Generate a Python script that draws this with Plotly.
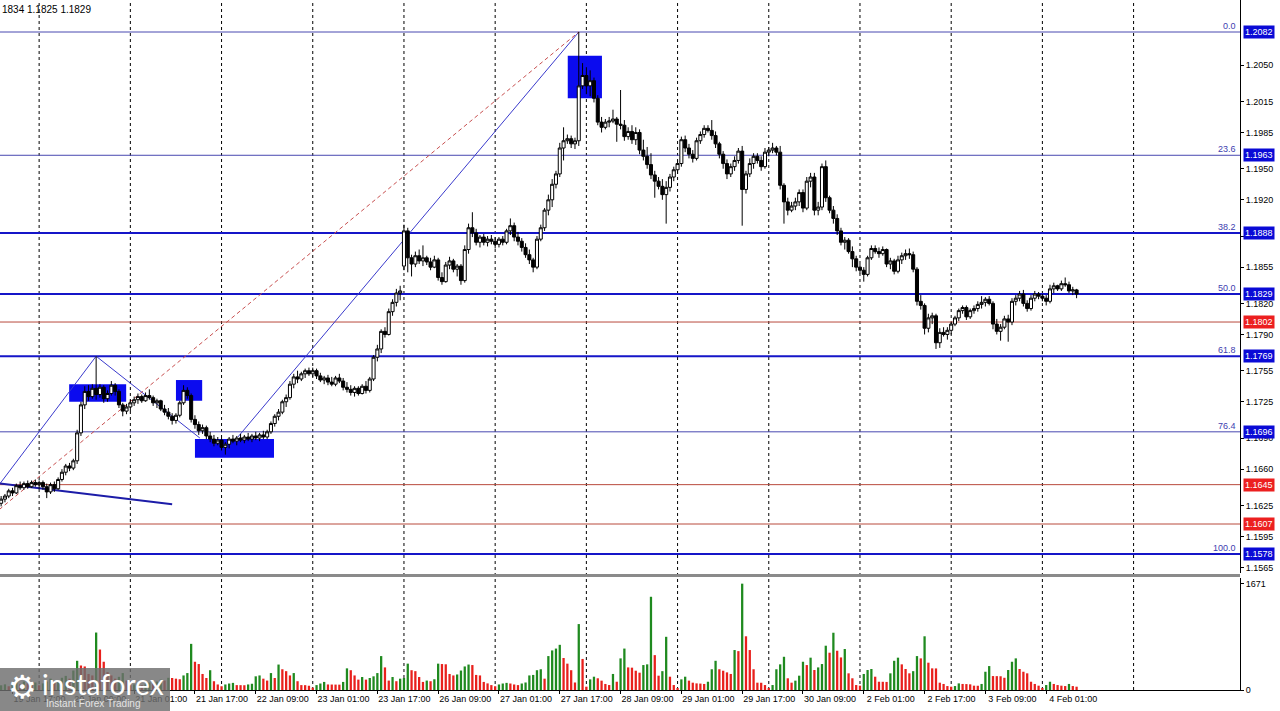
import plotly.graph_objects as go

# ---------------- data (EURUSD H1) ----------------
OPEN = [
    1.1627, 1.1631, 1.1634, 1.1639, 1.1637, 1.1644, 1.1642, 1.1646, 1.1643, 1.1647,
    1.1645, 1.1647, 1.1643, 1.1638, 1.1645, 1.1641, 1.1650, 1.1657, 1.1663, 1.1661,
    1.1668, 1.1695, 1.1722, 1.1735, 1.1730, 1.1738, 1.1732, 1.1739, 1.1728, 1.1733,
    1.1741, 1.1735, 1.1722, 1.1716, 1.1720, 1.1724, 1.1727, 1.1730, 1.1726, 1.1731,
    1.1729, 1.1724, 1.1726, 1.1718, 1.1715, 1.1711, 1.1707, 1.1712, 1.1724, 1.1736,
    1.1731, 1.1708, 1.1703, 1.1697, 1.1700, 1.1692, 1.1689, 1.1685, 1.1688, 1.1681,
    1.1684, 1.1689, 1.1687, 1.1690, 1.1688, 1.1691, 1.1689, 1.1692, 1.1690, 1.1693,
    1.1691, 1.1696, 1.1704, 1.1711, 1.1715, 1.1725, 1.1729, 1.1742, 1.1749, 1.1747,
    1.1752, 1.1755, 1.1752, 1.1755, 1.1750, 1.1746, 1.1748, 1.1744, 1.1742, 1.1748,
    1.1745, 1.1739, 1.1737, 1.1734, 1.1738, 1.1733, 1.1740, 1.1736, 1.1747, 1.1768,
    1.1776, 1.1793, 1.1790, 1.1812, 1.1821, 1.1830, 1.1856, 1.1890, 1.1864, 1.1858,
    1.1866, 1.1861, 1.1864, 1.1860, 1.1855, 1.1862, 1.1845, 1.1841, 1.1857, 1.1861,
    1.1853, 1.1856, 1.1842, 1.1872, 1.1893, 1.1888, 1.1879, 1.1884, 1.1879, 1.1882,
    1.1880, 1.1877, 1.1882, 1.1879, 1.1890, 1.1895, 1.1884, 1.1880, 1.1874, 1.1867,
    1.1862, 1.1855, 1.1882, 1.1893, 1.1910, 1.1920, 1.1935, 1.1945, 1.1970, 1.1977,
    1.1979, 1.1974, 1.1977, 1.2030, 1.2040, 1.2030, 1.2035, 1.2018, 1.1995, 1.1990,
    1.1995, 1.1996, 1.1998, 1.1993, 1.1992, 1.1981, 1.1986, 1.1978, 1.1985, 1.1968,
    1.1962, 1.1954, 1.1944, 1.1938, 1.1933, 1.1925, 1.1932, 1.1942, 1.1949, 1.1955,
    1.1978, 1.1970, 1.1964, 1.1960, 1.1977, 1.1983, 1.1989, 1.1987, 1.1982, 1.1974,
    1.1964, 1.1955, 1.1945, 1.1952, 1.1958, 1.1967, 1.1930, 1.1945, 1.1955, 1.1962,
    1.1958, 1.1952, 1.1966, 1.1968, 1.1970, 1.1966, 1.1934, 1.1918, 1.1910, 1.1914,
    1.1918, 1.1927, 1.1912, 1.1938, 1.1942, 1.1910, 1.1913, 1.1952, 1.1922, 1.1910,
    1.1902, 1.1890, 1.1879, 1.1881, 1.1870, 1.1863, 1.1855, 1.1852, 1.1848, 1.1864,
    1.1873, 1.1870, 1.1868, 1.1872, 1.1858, 1.1861, 1.1851, 1.1862, 1.1866, 1.1868,
    1.1867, 1.1853, 1.1822, 1.1818, 1.1796, 1.1806, 1.1808, 1.1782, 1.1792, 1.1790,
    1.1794, 1.1800, 1.1806, 1.1813, 1.1816, 1.1807, 1.1813, 1.1815, 1.1819, 1.1821,
    1.1824, 1.1820, 1.1800, 1.1793, 1.1797, 1.1805, 1.1802, 1.1822, 1.1825, 1.1829,
    1.1820, 1.1815, 1.1825, 1.1829, 1.1827, 1.1825, 1.1822, 1.1834, 1.1837, 1.1834,
    1.1839, 1.1838, 1.1832, 1.1833,
]
HIGH = [
    1.1634, 1.1636, 1.1641, 1.1642, 1.1646, 1.1648, 1.1648, 1.1649, 1.1649, 1.1650,
    1.1649, 1.1649, 1.1646, 1.1647, 1.1648, 1.1652, 1.1660, 1.1665, 1.1666, 1.1670,
    1.1698, 1.1725, 1.1740, 1.1741, 1.1742, 1.1769, 1.1742, 1.1741, 1.1736, 1.1745,
    1.1743, 1.1737, 1.1724, 1.1723, 1.1727, 1.1730, 1.1733, 1.1732, 1.1734, 1.1737,
    1.1731, 1.1728, 1.1727, 1.1722, 1.1719, 1.1714, 1.1714, 1.1726, 1.1741, 1.1739,
    1.1733, 1.1712, 1.1706, 1.1703, 1.1702, 1.1696, 1.1693, 1.1691, 1.1690, 1.1686,
    1.1691, 1.1693, 1.1692, 1.1694, 1.1693, 1.1695, 1.1694, 1.1696, 1.1695, 1.1697,
    1.1698, 1.1706, 1.1713, 1.1718, 1.1727, 1.1732, 1.1745, 1.1752, 1.1755, 1.1754,
    1.1757, 1.1758, 1.1758, 1.1757, 1.1753, 1.1750, 1.1751, 1.1749, 1.1750, 1.1752,
    1.1748, 1.1744, 1.1741, 1.1740, 1.1740, 1.1742, 1.1745, 1.1749, 1.1770, 1.1780,
    1.1795, 1.1797, 1.1815, 1.1824, 1.1834, 1.1837, 1.1896, 1.1893, 1.1867, 1.1870,
    1.1872, 1.1876, 1.1866, 1.1864, 1.1866, 1.1864, 1.1850, 1.1860, 1.1865, 1.1863,
    1.1858, 1.1858, 1.1876, 1.1897, 1.1908, 1.1892, 1.1886, 1.1887, 1.1885, 1.1886,
    1.1884, 1.1884, 1.1885, 1.1892, 1.1902, 1.1898, 1.1889, 1.1883, 1.1878, 1.1872,
    1.1864, 1.1885, 1.1896, 1.1912, 1.1925, 1.1940, 1.1948, 1.1975, 1.1990, 1.1983,
    1.1982, 1.1980, 1.2082, 1.2052, 1.2048, 1.2045, 1.2038, 1.2021, 1.2000, 1.1998,
    1.2000, 1.2007, 1.2000, 1.2026, 1.1997, 1.1990, 1.1992, 1.1990, 1.1988, 1.1978,
    1.1971, 1.1965, 1.1948, 1.1942, 1.1940, 1.1938, 1.1945, 1.1952, 1.1958, 1.1981,
    1.1982, 1.1974, 1.1968, 1.1980, 1.1986, 1.1992, 1.1992, 1.1997, 1.1986, 1.1976,
    1.1967, 1.1959, 1.1955, 1.1962, 1.1970, 1.1972, 1.1948, 1.1960, 1.1965, 1.1965,
    1.1962, 1.1970, 1.1971, 1.1975, 1.1972, 1.1972, 1.1936, 1.1922, 1.1918, 1.1922,
    1.1930, 1.1930, 1.1942, 1.1946, 1.1946, 1.1918, 1.1955, 1.1958, 1.1924, 1.1914,
    1.1906, 1.1893, 1.1884, 1.1883, 1.1875, 1.1866, 1.1858, 1.1855, 1.1866, 1.1876,
    1.1876, 1.1874, 1.1875, 1.1873, 1.1864, 1.1863, 1.1866, 1.1869, 1.1872, 1.1873,
    1.1870, 1.1855, 1.1828, 1.1820, 1.1810, 1.1811, 1.1810, 1.1796, 1.1797, 1.1797,
    1.1802, 1.1808, 1.1815, 1.1818, 1.1818, 1.1815, 1.1818, 1.1822, 1.1827, 1.1826,
    1.1827, 1.1822, 1.1805, 1.1800, 1.1808, 1.1809, 1.1825, 1.1828, 1.1832, 1.1833,
    1.1823, 1.1828, 1.1832, 1.1831, 1.1829, 1.1828, 1.1838, 1.1840, 1.1838, 1.1842,
    1.1845, 1.1841, 1.1836, 1.1834,
]
LOW = [
    1.1624, 1.1628, 1.1632, 1.1634, 1.1636, 1.1640, 1.1640, 1.1641, 1.1642, 1.1643,
    1.1641, 1.1640, 1.1632, 1.1636, 1.1638, 1.1640, 1.1648, 1.1654, 1.1658, 1.1659,
    1.1665, 1.1692, 1.1718, 1.1726, 1.1728, 1.1727, 1.1729, 1.1724, 1.1725, 1.1731,
    1.1731, 1.1719, 1.1711, 1.1713, 1.1716, 1.1721, 1.1723, 1.1724, 1.1725, 1.1727,
    1.1721, 1.1719, 1.1716, 1.1712, 1.1708, 1.1703, 1.1704, 1.1710, 1.1722, 1.1728,
    1.1705, 1.1699, 1.1693, 1.1694, 1.1689, 1.1686, 1.1682, 1.1683, 1.1678, 1.1674,
    1.1680, 1.1685, 1.1683, 1.1686, 1.1685, 1.1687, 1.1686, 1.1688, 1.1687, 1.1689,
    1.1689, 1.1694, 1.1701, 1.1707, 1.1713, 1.1720, 1.1727, 1.1738, 1.1743, 1.1745,
    1.1748, 1.1750, 1.1749, 1.1747, 1.1744, 1.1742, 1.1741, 1.1740, 1.1740, 1.1743,
    1.1736, 1.1734, 1.1731, 1.1730, 1.1731, 1.1732, 1.1733, 1.1734, 1.1745, 1.1764,
    1.1772, 1.1787, 1.1789, 1.1808, 1.1817, 1.1823, 1.1852, 1.1850, 1.1846, 1.1855,
    1.1858, 1.1856, 1.1857, 1.1852, 1.1854, 1.1842, 1.1838, 1.1840, 1.1853, 1.1850,
    1.1846, 1.1838, 1.1840, 1.1868, 1.1884, 1.1876, 1.1874, 1.1876, 1.1875, 1.1877,
    1.1873, 1.1874, 1.1876, 1.1877, 1.1886, 1.1880, 1.1876, 1.1870, 1.1864, 1.1858,
    1.1850, 1.1853, 1.1880, 1.1890, 1.1905, 1.1913, 1.1931, 1.1942, 1.1958, 1.1974,
    1.1970, 1.1969, 1.1972, 1.2027, 1.2022, 1.2020, 1.2014, 1.1992, 1.1985, 1.1988,
    1.1990, 1.1994, 1.1976, 1.1988, 1.1977, 1.1978, 1.1974, 1.1973, 1.1964, 1.1958,
    1.1950, 1.1940, 1.1922, 1.1930, 1.1920, 1.1897, 1.1928, 1.1938, 1.1945, 1.1952,
    1.1966, 1.1960, 1.1956, 1.1958, 1.1974, 1.1980, 1.1985, 1.1978, 1.1970, 1.1960,
    1.1950, 1.1940, 1.1942, 1.1948, 1.1955, 1.1895, 1.1926, 1.1942, 1.1950, 1.1955,
    1.1948, 1.1950, 1.1962, 1.1965, 1.1963, 1.1930, 1.1897, 1.1905, 1.1908, 1.1910,
    1.1914, 1.1908, 1.1910, 1.1932, 1.1905, 1.1905, 1.1910, 1.1918, 1.1907, 1.1897,
    1.1886, 1.1876, 1.1872, 1.1868, 1.1855, 1.1851, 1.1849, 1.1841, 1.1846, 1.1862,
    1.1868, 1.1864, 1.1866, 1.1855, 1.1853, 1.1848, 1.1849, 1.1858, 1.1862, 1.1863,
    1.1850, 1.1818, 1.1814, 1.1790, 1.1792, 1.1800, 1.1776, 1.1777, 1.1788, 1.1785,
    1.1790, 1.1798, 1.1803, 1.1810, 1.1804, 1.1805, 1.1810, 1.1812, 1.1815, 1.1817,
    1.1818, 1.1795, 1.1790, 1.1784, 1.1795, 1.1783, 1.1799, 1.1818, 1.1822, 1.1817,
    1.1812, 1.1813, 1.1822, 1.1824, 1.1822, 1.1818, 1.1820, 1.1830, 1.1832, 1.1832,
    1.1836, 1.1830, 1.1828, 1.1825,
]
CLOSE = [
    1.1631, 1.1634, 1.1639, 1.1637, 1.1644, 1.1642, 1.1646, 1.1643, 1.1647, 1.1645,
    1.1647, 1.1643, 1.1638, 1.1645, 1.1641, 1.1650, 1.1657, 1.1663, 1.1661, 1.1668,
    1.1695, 1.1722, 1.1735, 1.1730, 1.1738, 1.1732, 1.1739, 1.1728, 1.1733, 1.1741,
    1.1735, 1.1722, 1.1716, 1.1720, 1.1724, 1.1727, 1.1730, 1.1726, 1.1731, 1.1729,
    1.1724, 1.1726, 1.1718, 1.1715, 1.1711, 1.1707, 1.1712, 1.1724, 1.1736, 1.1731,
    1.1708, 1.1703, 1.1697, 1.1700, 1.1692, 1.1689, 1.1685, 1.1688, 1.1681, 1.1684,
    1.1689, 1.1687, 1.1690, 1.1688, 1.1691, 1.1689, 1.1692, 1.1690, 1.1693, 1.1691,
    1.1696, 1.1704, 1.1711, 1.1715, 1.1725, 1.1729, 1.1742, 1.1749, 1.1747, 1.1752,
    1.1755, 1.1752, 1.1755, 1.1750, 1.1746, 1.1748, 1.1744, 1.1742, 1.1748, 1.1745,
    1.1739, 1.1737, 1.1734, 1.1738, 1.1733, 1.1740, 1.1736, 1.1747, 1.1768, 1.1776,
    1.1793, 1.1790, 1.1812, 1.1821, 1.1830, 1.1832, 1.1890, 1.1864, 1.1858, 1.1866,
    1.1861, 1.1864, 1.1860, 1.1855, 1.1862, 1.1845, 1.1841, 1.1857, 1.1861, 1.1853,
    1.1856, 1.1842, 1.1872, 1.1893, 1.1888, 1.1879, 1.1884, 1.1879, 1.1882, 1.1880,
    1.1877, 1.1882, 1.1879, 1.1890, 1.1895, 1.1884, 1.1880, 1.1874, 1.1867, 1.1862,
    1.1855, 1.1882, 1.1893, 1.1910, 1.1920, 1.1935, 1.1945, 1.1970, 1.1977, 1.1979,
    1.1974, 1.1977, 1.2030, 1.2040, 1.2030, 1.2035, 1.2018, 1.1995, 1.1990, 1.1995,
    1.1996, 1.1998, 1.1993, 1.1992, 1.1981, 1.1986, 1.1978, 1.1985, 1.1968, 1.1962,
    1.1954, 1.1944, 1.1938, 1.1933, 1.1925, 1.1932, 1.1942, 1.1949, 1.1955, 1.1978,
    1.1970, 1.1964, 1.1960, 1.1977, 1.1983, 1.1989, 1.1987, 1.1982, 1.1974, 1.1964,
    1.1955, 1.1945, 1.1952, 1.1958, 1.1967, 1.1930, 1.1945, 1.1955, 1.1962, 1.1958,
    1.1952, 1.1966, 1.1968, 1.1970, 1.1966, 1.1934, 1.1918, 1.1910, 1.1914, 1.1918,
    1.1927, 1.1912, 1.1938, 1.1942, 1.1910, 1.1913, 1.1952, 1.1922, 1.1910, 1.1902,
    1.1890, 1.1879, 1.1881, 1.1870, 1.1863, 1.1855, 1.1852, 1.1848, 1.1864, 1.1873,
    1.1870, 1.1868, 1.1872, 1.1858, 1.1861, 1.1851, 1.1862, 1.1866, 1.1868, 1.1867,
    1.1853, 1.1822, 1.1818, 1.1796, 1.1806, 1.1808, 1.1782, 1.1792, 1.1790, 1.1794,
    1.1800, 1.1806, 1.1813, 1.1816, 1.1807, 1.1813, 1.1815, 1.1819, 1.1821, 1.1824,
    1.1820, 1.1800, 1.1793, 1.1797, 1.1805, 1.1802, 1.1822, 1.1825, 1.1829, 1.1820,
    1.1815, 1.1825, 1.1829, 1.1827, 1.1825, 1.1822, 1.1834, 1.1837, 1.1834, 1.1839,
    1.1838, 1.1832, 1.1833, 1.1829,
]
VOLUME = [
    74, 89, 59, 104, 118, 89, 133, 104, 89, 118,
    74, 104, 133, 178, 118, 148, 192, 222, 178, 306,
    459, 385, 370, 252, 229, 903, 636, 444, 281, 229,
    178, 207, 266, 148, 74, 89, 104, 74, 89, 118,
    104, 133, 163, 148, 192, 189, 178, 169, 229, 266,
    725, 444, 408, 252, 189, 311, 138, 87, 59, 87,
    102, 112, 77, 76, 75, 87, 98, 215, 229, 178,
    148, 266, 189, 400, 326, 296, 229, 266, 138, 77,
    76, 67, 36, 77, 102, 127, 87, 86, 85, 84,
    127, 340, 311, 229, 163, 204, 163, 189, 215, 266,
    533, 355, 148, 204, 138, 178, 189, 414, 311, 296,
    204, 127, 148, 138, 169, 414, 408, 404, 252, 229,
    244, 306, 370, 400, 392, 237, 229, 127, 104, 77,
    59, 87, 102, 112, 102, 87, 77, 102, 118, 229,
    237, 311, 326, 178, 533, 622, 651, 710, 503, 414,
    311, 118, 1036, 488, 52, 167, 209, 184, 147, 95,
    78, 252, 130, 497, 651, 355, 351, 303, 272, 392,
    403, 1465, 548, 225, 296, 836, 209, 78, 27, 167,
    209, 147, 115, 104, 101, 95, 130, 326, 459, 326,
    303, 277, 252, 628, 611, 1671, 844, 628, 326, 115,
    114, 78, 27, 78, 326, 403, 522, 184, 115, 147,
    225, 444, 392, 508, 314, 355, 408, 696, 586, 900,
    617, 512, 644, 262, 184, 78, 68, 252, 314, 330,
    209, 130, 129, 127, 262, 459, 508, 403, 330, 262,
    296, 533, 497, 844, 429, 340, 339, 115, 95, 62,
    52, 62, 104, 95, 93, 89, 68, 67, 95, 287,
    376, 219, 218, 216, 192, 314, 444, 497, 330, 287,
    262, 130, 95, 68, 27, 78, 130, 95, 78, 68,
    62, 95, 62, 52,
]
# trading sessions (day label, first hour shown)
SESSIONS = [("19 Jan", 14), ("20 Jan", 0), ("21 Jan", 0), ("22 Jan", 0), ("23 Jan", 0),
            ("26 Jan", 0), ("27 Jan", 0), ("28 Jan", 0), ("29 Jan", 0), ("30 Jan", 0),
            ("2 Feb", 0), ("3 Feb", 0), ("4 Feb", 0), ("5 Feb", 0)]
TICK_LABELS = ["19 Jan 17:00", "20 Jan 09:00", "21 Jan 01:00", "21 Jan 17:00", "22 Jan 09:00",
               "23 Jan 01:00", "23 Jan 17:00", "26 Jan 09:00", "27 Jan 01:00", "27 Jan 17:00",
               "28 Jan 09:00", "29 Jan 01:00", "29 Jan 17:00", "30 Jan 09:00", "2 Feb 01:00",
               "2 Feb 17:00", "3 Feb 09:00", "4 Feb 01:00"]
PRICE_TICKS = [1.2050, 1.2015, 1.1985, 1.1950, 1.1920, 1.1885, 1.1855, 1.1820, 1.1790,
               1.1755, 1.1725, 1.1690, 1.1660, 1.1625, 1.1595, 1.1565]
VOLUME_TICKS = [0, 1671]
FIB_NAMES = ["0.0", "23.6", "38.2", "50.0", "61.8", "76.4", "100.0"]
FIB_PRICES = [1.2082, 1.1963, 1.1888, 1.1829, 1.1769, 1.1696, 1.1578]
FIB_BOLD = ["38.2", "50.0", "61.8", "100.0"]
RED_LEVELS = [1.1802, 1.1645, 1.1607]
HEADER = "1834 1.1825 1.1829"
# drawing objects: (bar from, bar to, price top, price bottom)
BOXES = [(17.9, 32.9, 1.1742, 1.1725), (46.0, 52.9, 1.1746, 1.1726),
         (51.0, 71.8, 1.1689, 1.1671), (149.1, 158.1, 1.2059, 1.2018)]
# trend lines: ((bar, price), (bar, price))
TRENDS = [((-0.3, 1.1646), (25.0, 1.1769)), ((25.0, 1.1769), (52.3, 1.1690)),
          ((62.3, 1.1691), (152.0, 1.2082))]
SUPPORT = ((-0.3, 1.1646), (45.0, 1.1626))
FIB_TREND = ((-14.7, 1.1578), (152.0, 1.2082))

N = len(CLOSE)
assert len(OPEN) == N and len(HIGH) == N and len(LOW) == N and len(VOLUME) == N

times = []
for day, start in SESSIONS:
    for h in range(start, 24):
        times.append(f"{day} {h:02d}:00")
bars = list(range(N))
tickvals = [times.index(t) for t in TICK_LABELS]
X_RANGE = [-0.3, 326.0]
day_lines = [i for i, t in enumerate(times) if t.endswith(" 00:00") and X_RANGE[0] <= i <= X_RANGE[1]]

GREEN, RED = "#1f8a1f", "#e8201c"
vol_colors = [GREEN if (i == 0 or VOLUME[i] > VOLUME[i - 1]) else RED for i in range(N)]

FONT = "Liberation Sans"
PLOT_H = 690.0
price_dom = [(PLOT_H - 573) / PLOT_H, 1.0]
vol_dom = [0.0, (PLOT_H - 578) / PLOT_H]

fig = go.Figure()
fig.add_trace(go.Bar(x=bars, y=VOLUME, width=0.6, marker=dict(color=vol_colors, line=dict(width=0)),
                     xaxis="x", yaxis="y2", hoverinfo="skip"))
fig.add_trace(go.Candlestick(x=bars, open=OPEN, high=HIGH, low=LOW, close=CLOSE,
                             increasing=dict(line=dict(color="black", width=1), fillcolor="white"),
                             decreasing=dict(line=dict(color="black", width=1), fillcolor="black"),
                             whiskerwidth=0, xaxis="x", yaxis="y", hoverinfo="skip"))

shapes = []
for i in day_lines:
    shapes.append(dict(type="line", xref="x", yref="paper", x0=i, x1=i, y0=0, y1=1,
                       line=dict(color="black", width=1, dash="3px,3px"), layer="below"))
for (x0, x1, p0, p1) in BOXES:
    shapes.append(dict(type="rect", xref="x", yref="y", x0=x0, x1=x1, y0=p1, y1=p0,
                       fillcolor="#0b0bef", line=dict(width=0), layer="below"))
for name, p in zip(FIB_NAMES, FIB_PRICES):
    bold = name in FIB_BOLD
    shapes.append(dict(type="line", xref="paper", yref="y", x0=0, x1=1, y0=p, y1=p,
                       line=dict(color="#1515c8" if bold else "#4848b0", width=2 if bold else 1),
                       layer="below"))
for p in RED_LEVELS:
    shapes.append(dict(type="line", xref="paper", yref="y", x0=0, x1=1, y0=p, y1=p,
                       line=dict(color="#b84a3c", width=1), layer="below"))
for (a, b) in TRENDS:
    shapes.append(dict(type="line", xref="x", yref="y", x0=a[0], y0=a[1], x1=b[0], y1=b[1],
                       line=dict(color="#3a3acc", width=1), layer="below"))
shapes.append(dict(type="line", xref="x", yref="y", x0=SUPPORT[0][0], y0=SUPPORT[0][1],
                   x1=SUPPORT[1][0], y1=SUPPORT[1][1], line=dict(color="#1c1ca8", width=2), layer="below"))
shapes.append(dict(type="line", xref="x", yref="y", x0=FIB_TREND[0][0], y0=FIB_TREND[0][1],
                   x1=FIB_TREND[1][0], y1=FIB_TREND[1][1],
                   line=dict(color="#c85050", width=1, dash="4px,3px"), layer="below"))
# panel separator
shapes.append(dict(type="rect", xref="paper", yref="paper", x0=0, x1=1,
                   y0=(PLOT_H - 577) / PLOT_H, y1=(PLOT_H - 574) / PLOT_H,
                   fillcolor="#8a8a8a", line=dict(width=0), layer="above"))
# watermark box
shapes.append(dict(type="rect", xref="paper", yref="paper", x0=0, x1=170 / 1240,
                   y0=-21 / PLOT_H, y1=22 / PLOT_H, fillcolor="rgba(110,110,110,0.82)",
                   line=dict(width=0), layer="above"))

ann = []
for name, p in zip(FIB_NAMES, FIB_PRICES):
    ann.append(dict(x=1, xref="paper", y=p, yref="y", text=f"{p:.4f}", showarrow=False,
                    xanchor="left", yanchor="middle", xshift=3, bgcolor="#0a0ad6", borderpad=1,
                    font=dict(family=FONT, size=9, color="white")))
    ann.append(dict(x=1, xref="paper", y=p, yref="y", text=name, showarrow=False,
                    xanchor="right", yanchor="bottom", xshift=-2, yshift=-1,
                    font=dict(family=FONT, size=9, color="#4040b0")))
for p in RED_LEVELS:
    ann.append(dict(x=1, xref="paper", y=p, yref="y", text=f"{p:.4f}", showarrow=False,
                    xanchor="left", yanchor="middle", xshift=3, bgcolor="#ec1f1f", borderpad=1,
                    font=dict(family=FONT, size=9, color="white")))
ann.append(dict(x=0, xref="paper", y=1, yref="paper", text=HEADER, showarrow=False,
                xanchor="left", yanchor="top", yshift=-2, font=dict(family=FONT, size=10, color="black")))
ann.append(dict(x=22 / 1240, xref="paper", y=(PLOT_H - 687) / PLOT_H, yref="paper", text="⚙",
                showarrow=False, xanchor="center", yanchor="middle",
                font=dict(family="DejaVu Sans", size=32, color="white")))
ann.append(dict(x=40 / 1240, xref="paper", y=(PLOT_H - 684) / PLOT_H, yref="paper", text="instaforex",
                showarrow=False, xanchor="left", yanchor="middle",
                font=dict(family="Lato", size=28, color="white")))
ann.append(dict(x=44 / 1240, xref="paper", y=(PLOT_H - 703) / PLOT_H, yref="paper",
                text="Instant Forex Trading", showarrow=False, xanchor="left", yanchor="middle",
                font=dict(family=FONT, size=10, color="#e4e4e4")))

tickfont = dict(family=FONT, size=9, color="black")
fig.update_layout(
    width=1280, height=711, margin=dict(l=0, r=40, t=0, b=21),
    paper_bgcolor="white", plot_bgcolor="white", showlegend=False,
    boxgap=0.2, boxgroupgap=0, hovermode=False,
    xaxis=dict(domain=[0, 1], range=X_RANGE, anchor="y2", showgrid=False, zeroline=False,
               showline=True, linecolor="black", linewidth=1, ticks="outside", ticklen=3,
               tickcolor="black", tickvals=tickvals, ticktext=TICK_LABELS, tickfont=tickfont,
               ticklabelshift=27, ticklabelstandoff=-3, rangeslider=dict(visible=False)),
    yaxis=dict(domain=price_dom, range=[1.15597, 1.21129], side="right", anchor="x",
               showgrid=False, zeroline=False, showline=True, linecolor="black", linewidth=1,
               ticks="outside", ticklen=3, tickcolor="black", tickvals=PRICE_TICKS,
               ticktext=[f"{v:.4f}" for v in PRICE_TICKS], tickfont=tickfont),
    yaxis2=dict(domain=vol_dom, range=[0, 1760], side="right", anchor="x",
                showgrid=False, zeroline=False, showline=True, linecolor="black", linewidth=1,
                ticks="outside", ticklen=3, tickcolor="black", tickvals=VOLUME_TICKS,
                ticktext=[str(v) for v in VOLUME_TICKS], tickfont=tickfont),
    shapes=shapes, annotations=ann,
)

fig.write_html("out.html", config={"displayModeBar": False},
               post_script="document.body.style.margin='0';document.body.style.padding='0';")
